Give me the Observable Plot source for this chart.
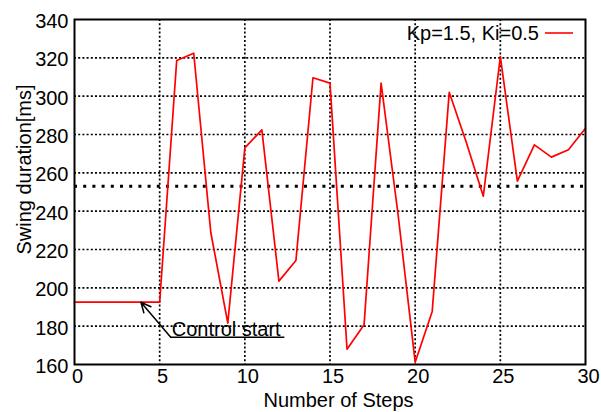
<!DOCTYPE html>
<html>
<head>
<meta charset="utf-8">
<script src="https://cdn.jsdelivr.net/npm/d3@7"></script>
<script src="https://cdn.jsdelivr.net/npm/@observablehq/plot@0.6"></script>
<style>
  html, body { margin: 0; padding: 0; background: white; }
</style>
</head>
<body>
<div id="chart"></div>
<script>
// ---- data ----
const steps = d3.range(0, 31);
const swing = [
  192.5, 192.5, 192.5, 192.5, 192.5, 192.5,
  318.6, 322.4, 229.0, 181.6, 273.0, 282.4, 203.5, 214.3, 309.6, 306.8,
  168.0, 180.7, 306.8, 238.0, 161.2, 187.7, 302.0, 276.0, 247.8, 320.7,
  255.7, 274.6, 268.2, 272.0, 283.3
];
const target = [253];
const xTicks = [0, 5, 10, 15, 20, 25, 30];
const yTicks = [160, 180, 200, 220, 240, 260, 280, 300, 320, 340];
const xGrid = [5, 10, 15, 20, 25];
const yGrid = [180, 200, 220, 240, 260, 280, 300, 320];
const legendLabel = "Kp=1.5, Ki=0.5";
const xTitle = "Number of Steps";
const yTitle = "Swing duration[ms]";
const noteText = ["Control start"];
const noteTip = {x: 3.9, y: 192.5};
const noteTail = {x: 5.65, y: 174.2};
const noteEnd = [12.35];

const data = steps.map((s, i) => ({step: s, value: swing[i]}));

const font = "'Liberation Sans', Arial, Helvetica, sans-serif";

function legendMark(index, scales, values, dimensions) {
  const {width, marginRight, marginTop} = dimensions;
  const right = width - marginRight;
  const g = d3.create("svg:g");
  g.append("text")
    .attr("x", right - 46).attr("y", marginTop + 21)
    .attr("text-anchor", "end")
    .attr("font-size", 20)
    .attr("fill", "black")
    .text(legendLabel);
  g.append("line")
    .attr("x1", right - 40).attr("x2", right - 12)
    .attr("y1", marginTop + 14).attr("y2", marginTop + 14)
    .attr("stroke", "red").attr("stroke-width", 1.6);
  return g.node();
}

const chart = Plot.plot({
  width: 601,
  height: 412,
  marginLeft: 74,
  marginRight: 16,
  marginTop: 19,
  marginBottom: 48,
  x: {domain: [0, 30]},
  y: {domain: [160, 340]},
  style: {fontFamily: font, fontSize: "20px", background: "white", color: "black", overflow: "visible"},
  marks: [
    Plot.gridX(xGrid, {stroke: "black", strokeOpacity: 1, strokeWidth: 1.7, strokeDasharray: "2,2.2"}),
    Plot.gridY(yGrid, {stroke: "black", strokeOpacity: 1, strokeWidth: 1.7, strokeDasharray: "2,2.2"}),
    Plot.ruleY(target, {x1: 0, x2: 30, stroke: "black", strokeWidth: 3, strokeDasharray: "3,6.2"}),
    Plot.line(data, {x: "step", y: "value", stroke: "red", strokeWidth: 1.7}),
    Plot.frame({stroke: "black", strokeWidth: 2}),
    Plot.arrow([0], {x1: () => noteTail.x, y1: () => noteTail.y, x2: () => noteTip.x, y2: () => noteTip.y,
      stroke: "black", strokeWidth: 1.5, headLength: 11, headAngle: 50, bend: 0, insetStart: 0, insetEnd: 0}),
    Plot.ruleY([noteTail.y], {x1: noteTail.x, x2: noteEnd[0], stroke: "black", strokeWidth: 1.4}),
    Plot.text(noteText, {x: noteTail.x, y: noteTail.y, text: d => d, textAnchor: "start", lineAnchor: "bottom",
      dx: 1, dy: -1, fontSize: 20, fill: "black"}),
    Plot.axisX(xTicks, {tickSize: 0, tickPadding: 4, dx: 3, fontSize: 20, label: null}),
    Plot.axisY(yTicks, {tickSize: 0, tickPadding: 6, dy: 2, fontSize: 20, label: null}),
    Plot.text([xTitle], {frameAnchor: "bottom", text: d => d, lineAnchor: "bottom", textAnchor: "middle",
      dx: 8.5, dy: 42, fontSize: 20, fill: "black"}),
    Plot.text([yTitle], {frameAnchor: "left", text: d => d, lineAnchor: "bottom", textAnchor: "middle",
      rotate: -90, dx: -44, dy: -22.5, fontSize: 20, fill: "black"}),
    legendMark
  ]
});
document.getElementById("chart").appendChild(chart);
</script>
</body>
</html>
